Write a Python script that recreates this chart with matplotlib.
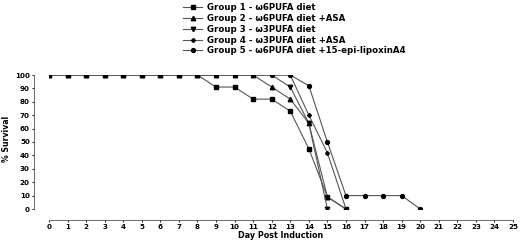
import numpy as np
import matplotlib
matplotlib.use("Agg")
import matplotlib.pyplot as plt

plt.rcParams['font.family'] = ['DejaVu Sans']
plt.rcParams['font.weight'] = 'bold'

days = list(range(0, 21))
# % survival per day
g1 = [100]*9 + [91, 91, 82, 82, 73, 45, 9, 0]
g2 = [100]*12 + [91, 82, 64, 9, 0]
g3 = [100]*13 + [91, 64, 0]
g4 = [100]*14 + [70, 42, 0]
g5 = [100]*14 + [92, 50, 10, 10, 10, 10, 0]

labels = ["Group 1 - \u03c96PUFA diet",
          "Group 2 - \u03c96PUFA diet +ASA",
          "Group 3 - \u03c93PUFA diet",
          "Group 4 - \u03c93PUFA diet +ASA",
          "Group 5 - \u03c96PUFA diet +15-epi-lipoxinA4"]
series = [g1, g2, g3, g4, g5]
markers = ['s', '^', 'v', 'D', 'o']
msizes = [3.2, 3.2, 3.2, 2.0, 2.8]

fig = plt.figure(figsize=(5.2, 2.4), dpi=100)
ax = fig.add_axes([49/520, 31/240, 464/520, 134/240])

for s, m, ms, lab in zip(series, markers, msizes, labels):
    ax.plot(days[:len(s)], s, color='#555555', lw=0.8, marker=m, ms=ms,
            mfc='black', mec='black', label=lab)

ax.set_xlim(0, 25)
ax.set_ylim(0, 100)
ax.set_xticks(range(0, 26))
ax.set_yticks(range(0, 101, 10))
ax.tick_params(labelsize=5.1, length=1.5, width=0.6, pad=1.5)
for sp in ['top', 'right']:
    ax.spines[sp].set_visible(False)
# offsets in points (15 px / 11 px at 100 dpi)
ax.spines['left'].set_position(('outward', 10.8))
ax.spines['bottom'].set_position(('outward', 7.9))
ax.spines['left'].set_bounds(0, 100)
ax.spines['bottom'].set_bounds(0, 25)
for sp in ['left', 'bottom']:
    ax.spines[sp].set_linewidth(0.6)
    ax.spines[sp].set_color('#555555')

fig.text(281/520, 1 - 235/240, "Day Post Induction", fontsize=5.8,
         fontweight='bold', ha='center', va='center')
fig.text(7/520, 1 - 139/240, "% Survival", fontsize=5.6, fontweight='bold',
         ha='center', va='center', rotation=90)

leg = fig.legend(loc='upper left', bbox_to_anchor=(180/520, 1.0), frameon=False,
                 fontsize=6.2, handlelength=2.2, labelspacing=0.2,
                 borderaxespad=0.0, handletextpad=0.5)

fig.savefig("out.png", dpi=100)
